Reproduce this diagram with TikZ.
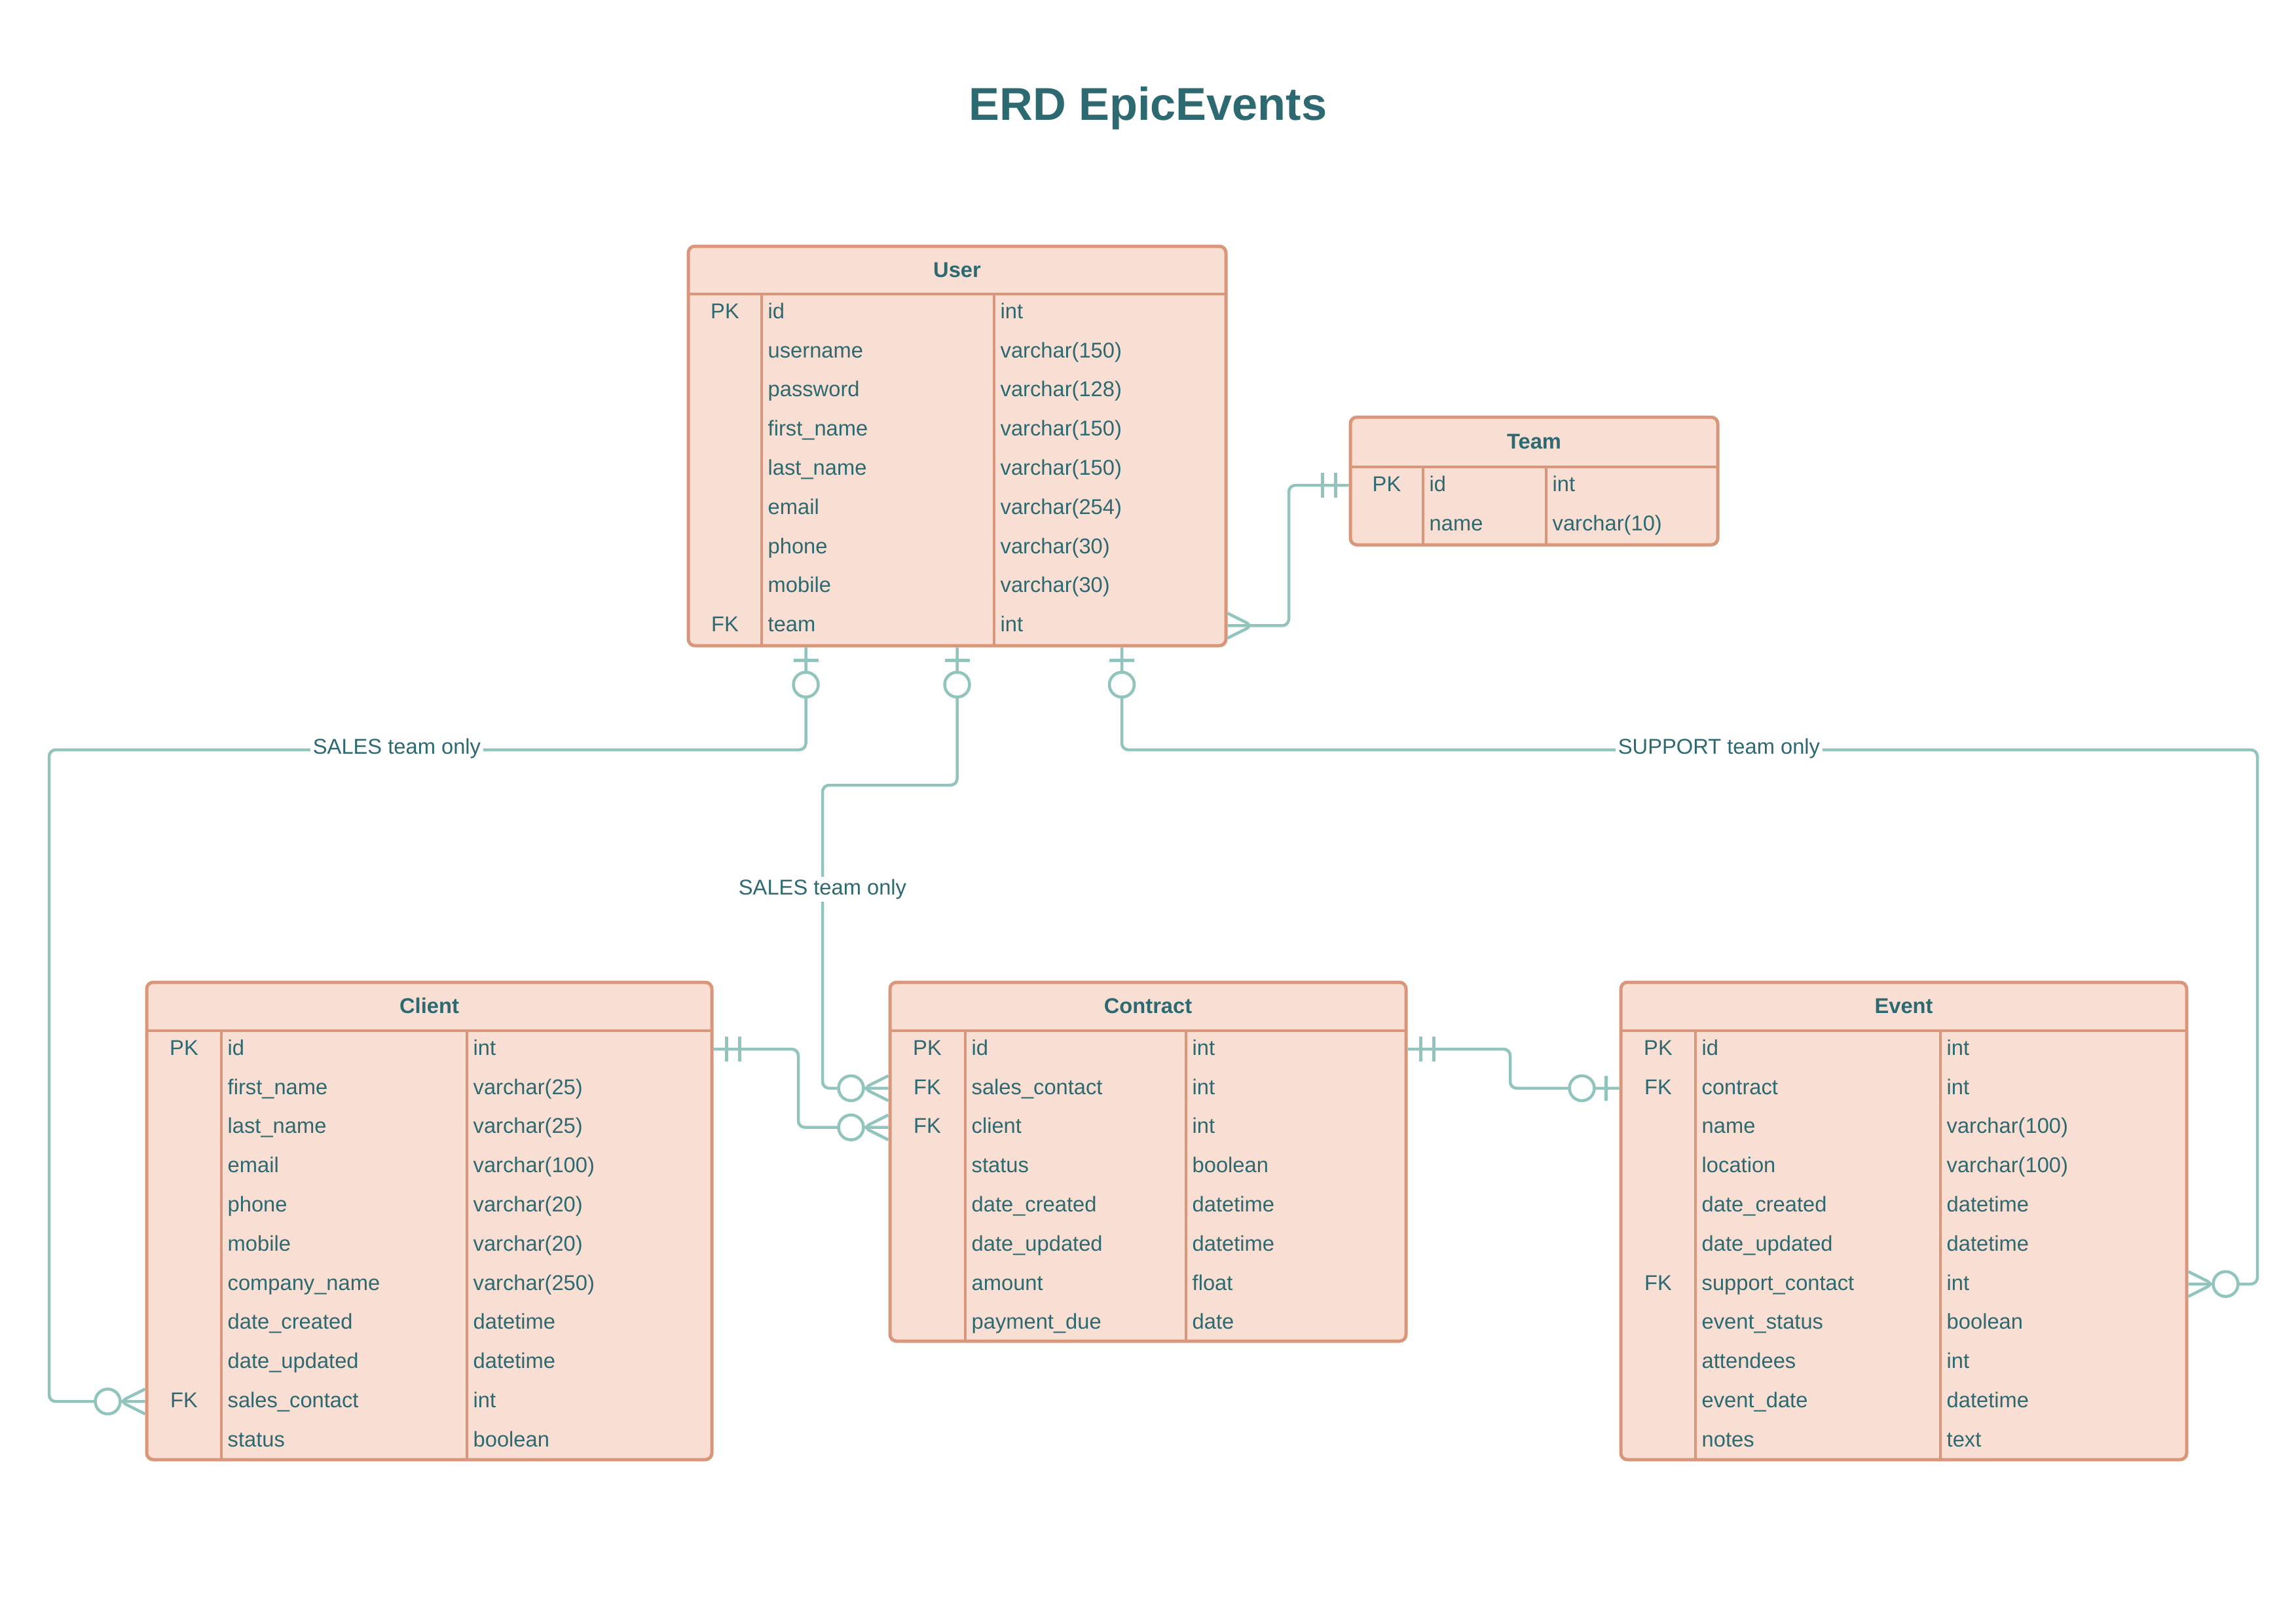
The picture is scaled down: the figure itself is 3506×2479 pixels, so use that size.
\documentclass[tikz,border=0pt]{standalone}
\usepackage{fontspec}
\setmainfont{Liberation Sans}
\definecolor{erdfill}{HTML}{F8DED3}
\definecolor{erdline}{HTML}{D9967B}
\definecolor{erdtext}{HTML}{2D6970}
\definecolor{erdrel}{HTML}{92C4BE}

\begin{document}
\begin{tikzpicture}[x=0.1mm, y=-0.1mm,
    tbl/.style = {draw=erdline, fill=erdfill, line width=0.5mm, rounded corners=1mm, inner sep=0},
    sep/.style = {draw=erdline, line width=0.4mm},
    hdr/.style = {text=erdtext, font=\fontsize{9.3}{11}\selectfont\bfseries, inner sep=0, anchor=mid},
    key/.style = {text=erdtext, font=\fontsize{9.3}{11}\selectfont, inner sep=0, anchor=mid},
    fld/.style = {key, anchor=mid west},
    rel/.style = {draw=erdrel, line width=0.45mm, rounded corners=1mm},
    lbl/.style = {key, fill=white, inner sep=1pt},
    one/.pic = {\draw[rel] (20,-19) -- (20,19) (40,-19) -- (40,19);},
    many/.pic = {\draw[rel] (0,19) -- (38,0) -- (0,-19);},
    zone/.pic = {\draw[rel] (20,-19) -- (20,19); \draw[rel, fill=white] (57,0) circle[radius=1.9mm];},
    zmany/.pic = {\draw[rel] (0,19) -- (38,0) -- (0,-19); \draw[rel, fill=white] (57,0) circle[radius=1.9mm];}]
    \useasboundingbox (0,0) rectangle (3506,2479);

    \node[text=erdtext, font=\fontsize{20}{24}\selectfont\bfseries] (title) at (1753,165) {ERD EpicEvents};

    % User
    \node[tbl, minimum width=82.1mm, minimum height=61mm] (user) at (1461.5,681) {};
    \node[hdr] (user-h) at (1461.5,414) {User};
    \draw[sep] (1051,449) -- (1872,449);
    \draw[sep] (1163,449) -- (1163,986) (1518,449) -- (1518,986);
    \foreach \k/\f/\t [count=\i from 0] in {PK/id/int, /username/varchar(150), /password/varchar(128),
        /first\_name/varchar(150), /last\_name/varchar(150), /email/varchar(254), /phone/varchar(30),
        /mobile/varchar(30), FK/team/int}{
        \node[key] (user-k\i) at (1107,477+59.8*\i) {\k};
        \node[fld] (user-f\i) at (1172,477+59.8*\i) {\f};
        \node[fld] (user-t\i) at (1527,477+59.8*\i) {\t};
    }

    % Team
    \node[tbl, minimum width=56.1mm, minimum height=19.5mm] (team) at (2342.5,734.5) {};
    \node[hdr] (team-h) at (2342.5,676) {Team};
    \draw[sep] (2062,713) -- (2623,713);
    \draw[sep] (2173,713) -- (2173,832) (2361,713) -- (2361,832);
    \foreach \k/\f/\t [count=\i from 0] in {PK/id/int, /name/varchar(10)}{
        \node[key] (team-k\i) at (2117.5,741+59.8*\i) {\k};
        \node[fld] (team-f\i) at (2182,741+59.8*\i) {\f};
        \node[fld] (team-t\i) at (2370,741+59.8*\i) {\t};
    }

    % Client
    \node[tbl, minimum width=86.3mm, minimum height=72.9mm] (client) at (655.5,1864.5) {};
    \node[hdr] (client-h) at (655.5,1538) {Client};
    \draw[sep] (224,1574) -- (1087,1574);
    \draw[sep] (338,1574) -- (338,2229) (713,1574) -- (713,2229);
    \foreach \k/\f/\t [count=\i from 0] in {PK/id/int, /first\_name/varchar(25), /last\_name/varchar(25),
        /email/varchar(100), /phone/varchar(20), /mobile/varchar(20), /company\_name/varchar(250),
        /date\_created/datetime, /date\_updated/datetime, FK/sales\_contact/int, /status/boolean}{
        \node[key] (client-k\i) at (281,1602+59.8*\i) {\k};
        \node[fld] (client-f\i) at (347,1602+59.8*\i) {\f};
        \node[fld] (client-t\i) at (722,1602+59.8*\i) {\t};
    }

    % Contract
    \node[tbl, minimum width=78.8mm, minimum height=54.8mm] (contract) at (1753,1774) {};
    \node[hdr] (contract-h) at (1753,1538) {Contract};
    \draw[sep] (1359,1574) -- (2147,1574);
    \draw[sep] (1474,1574) -- (1474,2048) (1811,1574) -- (1811,2048);
    \foreach \k/\f/\t [count=\i from 0] in {PK/id/int, FK/sales\_contact/int, FK/client/int,
        /status/boolean, /date\_created/datetime, /date\_updated/datetime, /amount/float, /payment\_due/date}{
        \node[key] (contract-k\i) at (1416,1602+59.8*\i) {\k};
        \node[fld] (contract-f\i) at (1483,1602+59.8*\i) {\f};
        \node[fld] (contract-t\i) at (1820,1602+59.8*\i) {\t};
    }

    % Event
    \node[tbl, minimum width=86.4mm, minimum height=72.9mm] (event) at (2907,1864.5) {};
    \node[hdr] (event-h) at (2907,1538) {Event};
    \draw[sep] (2475,1574) -- (3339,1574);
    \draw[sep] (2589,1574) -- (2589,2229) (2963,1574) -- (2963,2229);
    \foreach \k/\f/\t [count=\i from 0] in {PK/id/int, FK/contract/int, /name/varchar(100),
        /location/varchar(100), /date\_created/datetime, /date\_updated/datetime, FK/support\_contact/int,
        /event\_status/boolean, /attendees/int, /event\_date/datetime, /notes/text}{
        \node[key] (event-k\i) at (2532,1602+59.8*\i) {\k};
        \node[fld] (event-f\i) at (2598,1602+59.8*\i) {\f};
        \node[fld] (event-t\i) at (2972,1602+59.8*\i) {\t};
    }

    % relations
    \draw[rel] (user.east |- user-f8.mid) -| (1968,741) -- (team.west |- team-f0.mid);
    \draw[rel] ([xshift=-23.1mm]user.south) |- (75,1145) |- (client.west |- client-f9.mid);
    \draw[rel] (user.south) |- (1256,1199) |- (contract.west |- contract-f1.mid);
    \draw[rel] ([xshift=25.15mm]user.south) |- (3447,1145) |- (event.east |- event-f6.mid);
    \draw[rel] (client.east |- client-f0.mid) -| (1219,1721.6) -- (contract.west |- contract-f2.mid);
    \draw[rel] (contract.east |- contract-f0.mid) -| (2306,1661.8) -- (event.west |- event-f1.mid);

    \pic at (user.east |- user-f8.mid) {many};
    \pic[rotate=180] at (team.west |- team-f0.mid) {one};
    \pic[rotate=-90] at ([xshift=-23.1mm]user.south) {zone};
    \pic[rotate=180] at (client.west |- client-f9.mid) {zmany};
    \pic[rotate=-90] at (user.south) {zone};
    \pic[rotate=180] at (contract.west |- contract-f1.mid) {zmany};
    \pic[rotate=-90] at ([xshift=25.15mm]user.south) {zone};
    \pic at (event.east |- event-f6.mid) {zmany};
    \pic at (client.east |- client-f0.mid) {one};
    \pic[rotate=180] at (contract.west |- contract-f2.mid) {zmany};
    \pic at (contract.east |- contract-f0.mid) {one};
    \pic[rotate=180] at (event.west |- event-f1.mid) {zone};

    \node[lbl] (sales-client) at (606,1142) {SALES team only};
    \node[lbl] (sales-contract) at (1256,1357) {SALES team only};
    \node[lbl] (support-event) at (2625,1142) {SUPPORT team only};
\end{tikzpicture}
\end{document}
